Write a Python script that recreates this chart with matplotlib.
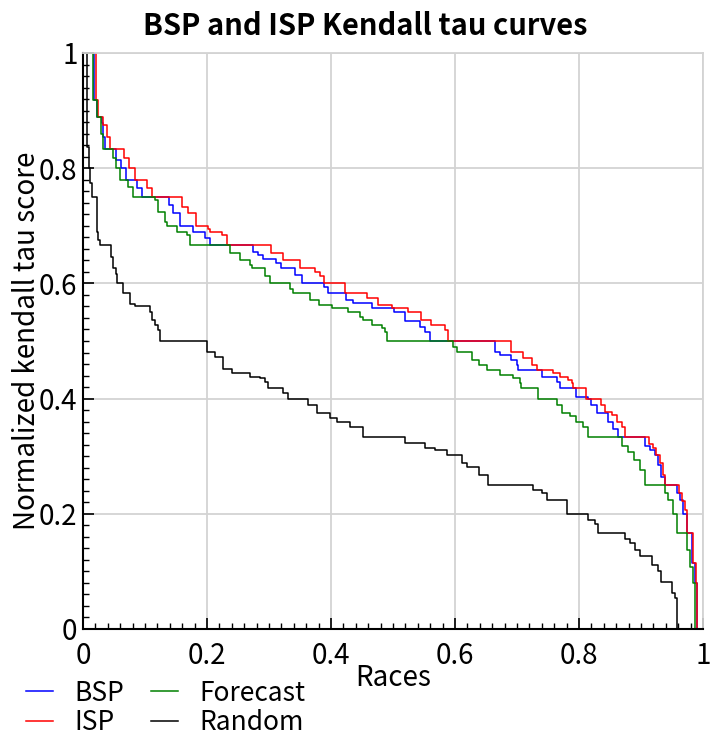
import matplotlib
matplotlib.use("Agg")
import matplotlib.pyplot as plt
from matplotlib.ticker import MultipleLocator, FuncFormatter

plt.rcParams['font.family'] = ['Noto Sans CJK JP', 'DejaVu Sans']

# (fraction of races where the score drops, new normalized kendall tau score)
bsp_x = [0, 0.017, 0.022, 0.030, 0.033, 0.035, 0.054, 0.062, 0.070, 0.087, 0.095,
         0.138, 0.146, 0.156, 0.178, 0.197, 0.205, 0.275, 0.283, 0.291, 0.312, 0.320,
         0.342, 0.353, 0.388, 0.396, 0.425, 0.436, 0.466, 0.501, 0.519, 0.544, 0.552,
         0.560, 0.665, 0.673, 0.691, 0.700, 0.702, 0.740, 0.764, 0.769, 0.796, 0.815,
         0.820, 0.829, 0.847, 0.855, 0.863, 0.906, 0.915, 0.923, 0.928, 0.933, 0.939,
         0.958, 0.963, 0.968, 0.974, 0.982, 0.987, 0.990, 1.0]
bsp_y = [1, 0.918, 0.889, 0.878, 0.855, 0.833, 0.814, 0.80, 0.78, 0.765, 0.75,
         0.736, 0.722, 0.70, 0.69, 0.678, 0.667, 0.655, 0.649, 0.642, 0.635, 0.626,
         0.615, 0.60, 0.594, 0.584, 0.571, 0.5655, 0.557, 0.551, 0.534, 0.525, 0.516,
         0.50, 0.481, 0.476, 0.467, 0.458, 0.45, 0.438, 0.429, 0.418, 0.403, 0.40,
         0.389, 0.375, 0.36, 0.348, 0.333, 0.317, 0.311, 0.302, 0.285, 0.264, 0.25,
         0.236, 0.224, 0.20, 0.167, 0.114, 0.08, 0.0, 0.0]

isp_x = [0, 0.021, 0.025, 0.033, 0.039, 0.044, 0.066, 0.075, 0.084, 0.103, 0.111,
         0.159, 0.170, 0.183, 0.202, 0.205, 0.224, 0.232, 0.304, 0.323, 0.350, 0.374,
         0.382, 0.388, 0.423, 0.458, 0.476, 0.498, 0.525, 0.546, 0.562, 0.584, 0.589,
         0.691, 0.710, 0.724, 0.732, 0.758, 0.769, 0.783, 0.788, 0.791, 0.811, 0.835,
         0.842, 0.853, 0.861, 0.869, 0.874, 0.913, 0.920, 0.925, 0.931, 0.936, 0.939,
         0.962, 0.966, 0.971, 0.974, 0.984, 0.989, 0.991, 1.0]
isp_y = [1, 0.918, 0.889, 0.875, 0.855, 0.833, 0.817, 0.80, 0.78, 0.765, 0.75,
         0.733, 0.722, 0.70, 0.695, 0.69, 0.684, 0.667, 0.652, 0.641, 0.626, 0.620,
         0.612, 0.60, 0.584, 0.574, 0.5625, 0.557, 0.551, 0.536, 0.528, 0.519, 0.50,
         0.481, 0.47, 0.458, 0.45, 0.444, 0.438, 0.432, 0.427, 0.418, 0.40, 0.389,
         0.377, 0.372, 0.36, 0.351, 0.333, 0.322, 0.314, 0.302, 0.288, 0.267, 0.25,
         0.236, 0.222, 0.207, 0.167, 0.114, 0.08, 0.0, 0.0]

forecast_x = [0, 0.016, 0.022, 0.029, 0.032, 0.049, 0.053, 0.060, 0.073, 0.080,
              0.116, 0.121, 0.132, 0.135, 0.151, 0.167, 0.173, 0.237, 0.253, 0.269,
              0.272, 0.294, 0.302, 0.334, 0.339, 0.366, 0.380, 0.401, 0.428, 0.447,
              0.452, 0.466, 0.482, 0.487, 0.490, 0.597, 0.603, 0.627, 0.638, 0.651,
              0.673, 0.694, 0.705, 0.707, 0.734, 0.764, 0.772, 0.785, 0.796, 0.807,
              0.815, 0.869, 0.879, 0.888, 0.898, 0.906, 0.939, 0.944, 0.952, 0.958,
              0.974, 0.979, 0.984, 0.987, 1.0]
forecast_y = [1, 0.918, 0.889, 0.86, 0.833, 0.817, 0.80, 0.78, 0.768, 0.75,
              0.745, 0.724, 0.707, 0.70, 0.69, 0.684, 0.667, 0.652, 0.641, 0.632,
              0.626, 0.612, 0.60, 0.591, 0.584, 0.571, 0.5625, 0.557, 0.551, 0.542,
              0.536, 0.528, 0.522, 0.516, 0.50, 0.49, 0.481, 0.467, 0.458, 0.45,
              0.441, 0.435, 0.427, 0.418, 0.40, 0.389, 0.375, 0.369, 0.36, 0.351,
              0.333, 0.317, 0.308, 0.293, 0.276, 0.25, 0.236, 0.224, 0.20, 0.167,
              0.137, 0.108, 0.08, 0.0, 0.0]

random_x = [0, 0.006, 0.009, 0.010, 0.012, 0.014, 0.022, 0.025, 0.027, 0.046, 0.049,
            0.053, 0.055, 0.065, 0.076, 0.084, 0.108, 0.111, 0.116, 0.121, 0.124,
            0.200, 0.213, 0.226, 0.240, 0.269, 0.285, 0.294, 0.299, 0.323, 0.331,
            0.363, 0.377, 0.398, 0.409, 0.431, 0.452, 0.520, 0.552, 0.568, 0.587,
            0.611, 0.619, 0.638, 0.654, 0.726, 0.740, 0.748, 0.780, 0.815, 0.826,
            0.831, 0.874, 0.882, 0.890, 0.898, 0.917, 0.928, 0.933, 0.950, 0.955,
            0.958, 1.0]
random_y = [1, 0.837, 0.826, 0.80, 0.774, 0.75, 0.69, 0.675, 0.667, 0.646, 0.626,
            0.617, 0.60, 0.583, 0.565, 0.56, 0.551, 0.536, 0.528, 0.519, 0.50,
            0.481, 0.473, 0.452, 0.444, 0.438, 0.435, 0.429, 0.418, 0.409, 0.40,
            0.389, 0.375, 0.366, 0.36, 0.351, 0.333, 0.323, 0.314, 0.311, 0.302,
            0.288, 0.282, 0.267, 0.25, 0.241, 0.236, 0.224, 0.20, 0.189, 0.183,
            0.167, 0.157, 0.149, 0.137, 0.126, 0.111, 0.10, 0.082, 0.062, 0.053,
            0.0, 0.0]

fig = plt.figure(figsize=(7.11, 7.33), dpi=100)
ax = fig.add_axes([0.1167, 0.1419, 0.872, 0.7858])

ax.step(bsp_x, bsp_y, where='post', color='blue', lw=1.1, label='BSP')
ax.step(isp_x, isp_y, where='post', color='red', lw=1.1, label='ISP')
ax.step(forecast_x, forecast_y, where='post', color='green', lw=1.1, label='Forecast')
ax.step(random_x, random_y, where='post', color='black', lw=1.1, label='Random')

ax.set_xlim(0, 1)
ax.set_ylim(0, 1)
ax.grid(True, color='#d3d3d3', lw=1.3)
ax.set_axisbelow(True)

ax.xaxis.set_major_locator(MultipleLocator(0.2))
ax.yaxis.set_major_locator(MultipleLocator(0.2))
ax.xaxis.set_minor_locator(MultipleLocator(0.02))
ax.yaxis.set_minor_locator(MultipleLocator(0.02))
fmt = FuncFormatter(lambda v, p: '%g' % round(v, 2))
ax.xaxis.set_major_formatter(fmt)
ax.yaxis.set_major_formatter(fmt)
ax.tick_params(which='major', direction='in', length=8, width=1.2, labelsize=20)
ax.tick_params(which='minor', direction='in', length=4, width=1.0)
ax.tick_params(axis='x', which='major', pad=9)
ax.tick_params(axis='y', which='major', pad=4)

for side in ['top', 'right']:
    ax.spines[side].set_color('#d3d3d3')
    ax.spines[side].set_linewidth(1.3)
for side in ['left', 'bottom']:
    ax.spines[side].set_linewidth(1.5)

title = ax.set_title('BSP and ISP Kendall tau curves', fontsize=21, fontweight='bold', pad=13)
title.set_x(0.455)
ax.set_xlabel('Races', fontsize=20, labelpad=-6)
ax.set_ylabel('Normalized kendall tau score', fontsize=20, labelpad=-2)

fig.legend(loc='upper left', bbox_to_anchor=(0.01, 0.098), ncol=2, frameon=False,
           fontsize=19, handlelength=1.05, handletextpad=0.8, columnspacing=1.0,
           labelspacing=0.1, borderpad=0.2)

fig.savefig('out.png', dpi=100)
